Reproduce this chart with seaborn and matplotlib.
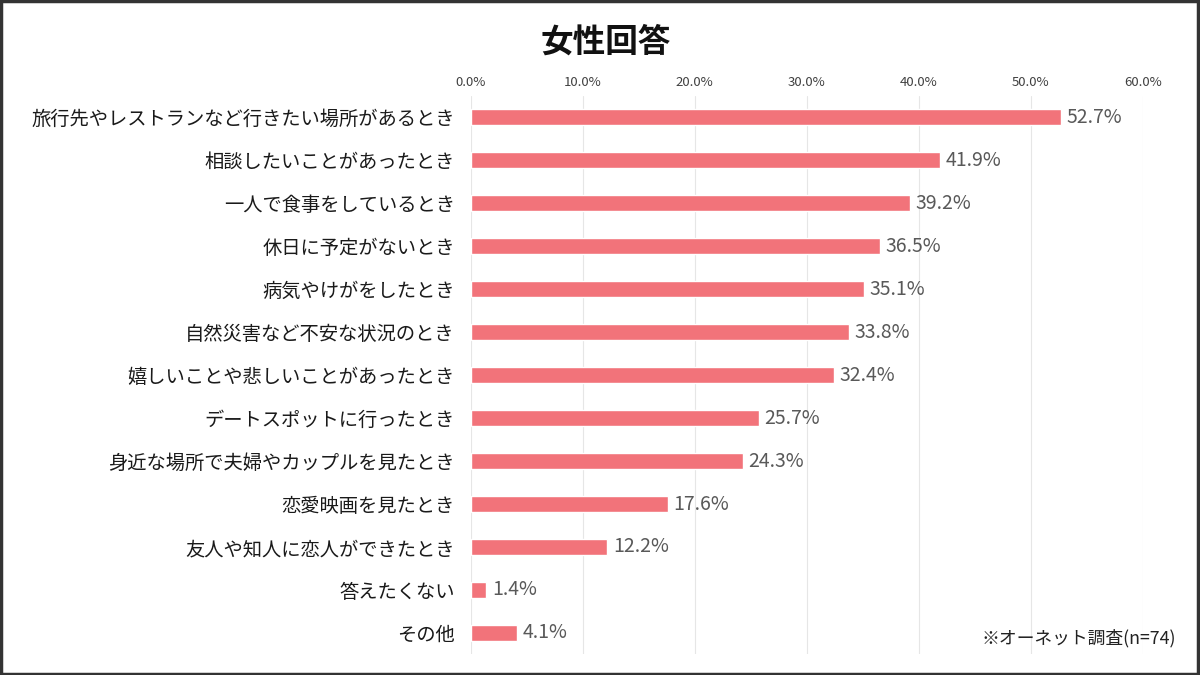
import matplotlib
matplotlib.use("Agg")
import matplotlib.pyplot as plt
import seaborn as sns
import pandas as pd
from matplotlib.patches import Rectangle

categories = [
    "旅行先やレストランなど行きたい場所があるとき",
    "相談したいことがあったとき",
    "一人で食事をしているとき",
    "休日に予定がないとき",
    "病気やけがをしたとき",
    "自然災害など不安な状況のとき",
    "嬉しいことや悲しいことがあったとき",
    "デートスポットに行ったとき",
    "身近な場所で夫婦やカップルを見たとき",
    "恋愛映画を見たとき",
    "友人や知人に恋人ができたとき",
    "答えたくない",
    "その他",
]
values = [52.7, 41.9, 39.2, 36.5, 35.1, 33.8, 32.4, 25.7, 24.3, 17.6, 12.2, 1.4, 4.1]
xticks = [0, 10, 20, 30, 40, 50, 60]
title = "女性回答"
note = "※オーネット調査(n=74)"

sns.set_theme(style="white")
plt.rcParams['font.family'] = ['Noto Sans CJK JP', 'DejaVu Sans']

df = pd.DataFrame({"cat": categories, "val": values})

fig = plt.figure(figsize=(12, 6.75), dpi=100)
ax = fig.add_axes([0.3923, 0.0304, 0.56, 0.828])
sns.barplot(data=df, x="val", y="cat", ax=ax, color="#F2737A", saturation=1,
            width=0.38, orient="h")
ax.set_xlim(0, 60)
ax.set_ylim(len(categories) - 0.5, -0.5)
ax.set_xticks(xticks)
ax.set_xticklabels([f"{t:.1f}%" for t in xticks], fontsize=9.5, color="#404040")
ax.xaxis.tick_top()
ax.tick_params(axis="x", length=0, pad=5)
ax.tick_params(axis="y", length=0, pad=11.5)
ax.set_yticklabels(categories, fontsize=13.9, color="#1a1a1a")
ax.set_xlabel("")
ax.set_ylabel("")
ax.grid(axis="x", color="#e6e6e6", linewidth=0.8)
ax.set_axisbelow(True)
for s in ["top", "right", "bottom", "left"]:
    ax.spines[s].set_visible(False)

for i, v in enumerate(values):
    ax.text(v + 0.5, i, f"{v:.1f}%", va="center", ha="left", fontsize=14, color="#595959")

fig.text(0.505, 0.937, title, ha="center", va="center", fontsize=23.5, fontweight="bold", color="#111111")
fig.text(0.98, 0.055, note, ha="right", va="center", fontsize=12.8, color="#222222")

fig.patches.append(Rectangle((0.001, 0.002), 0.997, 0.996, transform=fig.transFigure,
                             fill=False, edgecolor="#333333", linewidth=2.5))

fig.savefig("out.png", dpi=100)
